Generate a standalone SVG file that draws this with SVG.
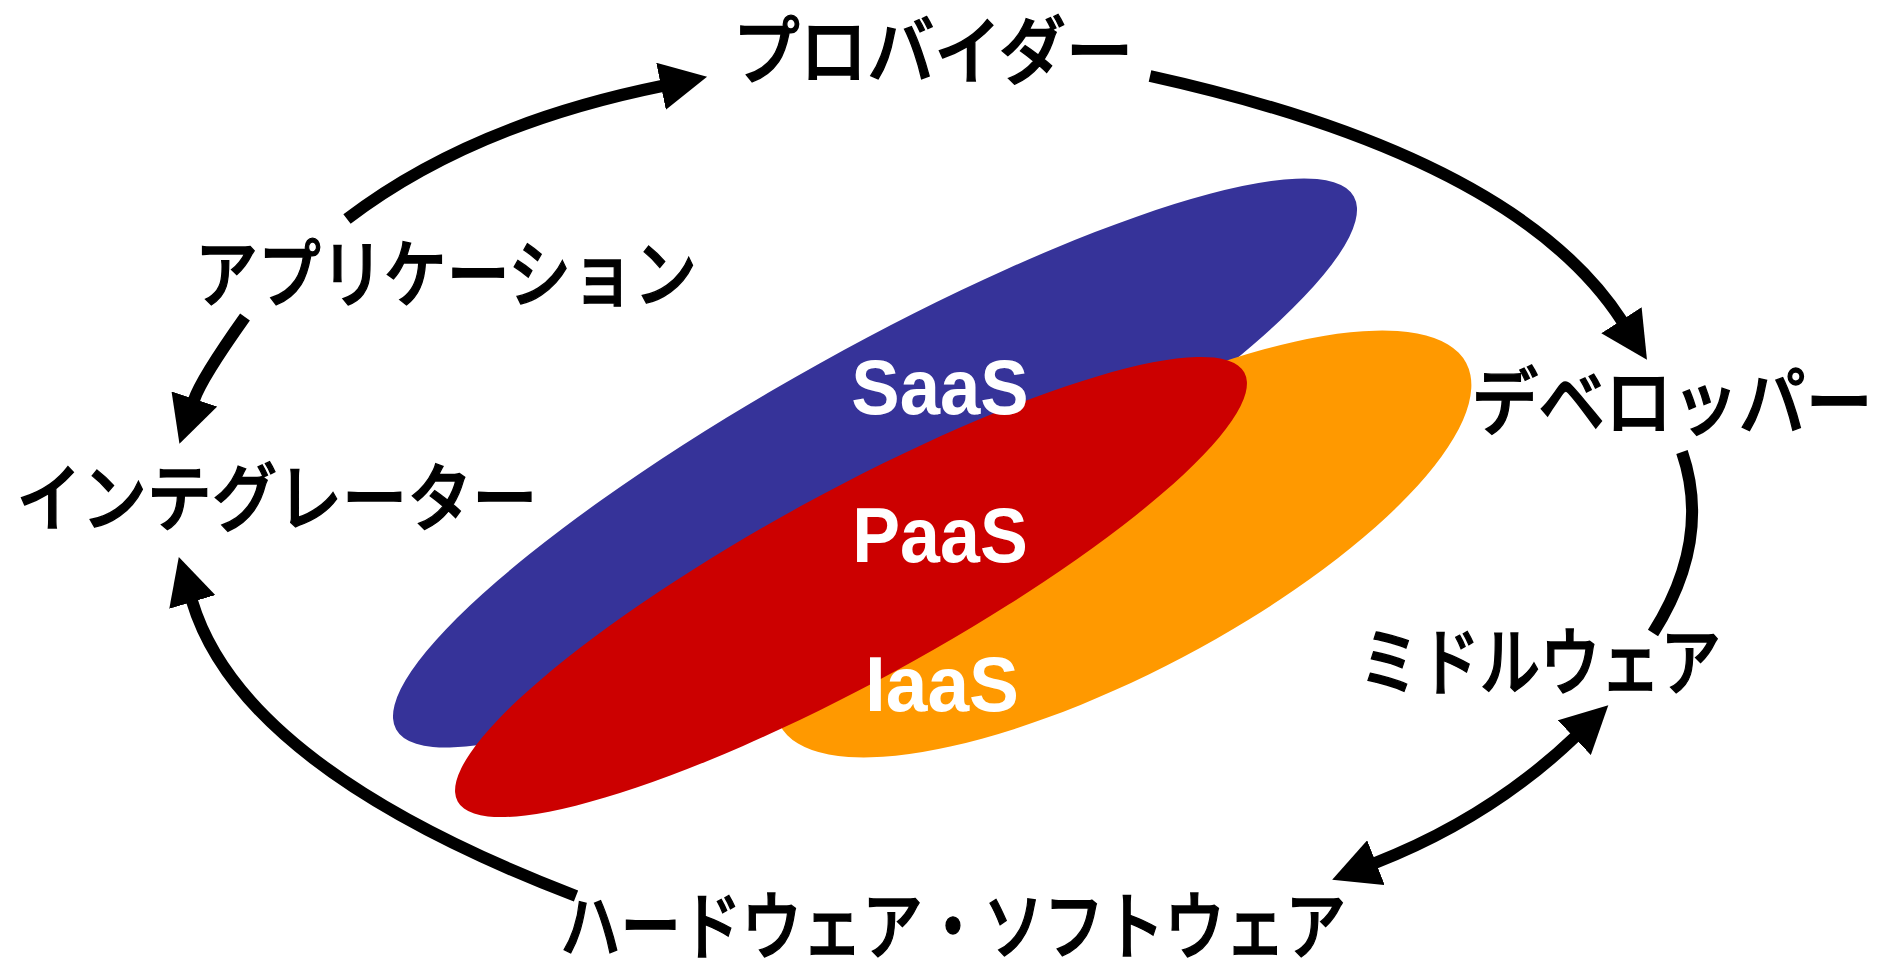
<svg xmlns="http://www.w3.org/2000/svg" width="1879" height="963" viewBox="0 0 1879 963">
<style>
.lbl{font-family:"Noto Sans CJK JP","Noto Sans",sans-serif;font-size:74px;font-weight:500;fill:#000;stroke:#000;stroke-width:1.4;text-anchor:middle}
.aas{font-family:"Liberation Sans",Arial,sans-serif;font-size:78px;font-weight:bold;fill:#fff;text-anchor:middle}
.conn{fill:none;stroke:#000;stroke-width:12;stroke-linecap:butt}
</style>
<defs>
<marker id="ah" markerUnits="userSpaceOnUse" markerWidth="48" markerHeight="48" viewBox="0 0 48 48" refX="1" refY="24" orient="auto"><path d="M0,0 L47,24 L0,48 Z" fill="#000"/></marker>
<marker id="ahs" markerUnits="userSpaceOnUse" markerWidth="48" markerHeight="48" viewBox="0 0 48 48" refX="1" refY="24" orient="auto-start-reverse"><path d="M0,0 L47,24 L0,48 Z" fill="#000"/></marker>
</defs>
<rect width="1879" height="963" fill="#fff"/>
<g id="layers">
<ellipse id="saas" cx="875" cy="463" rx="548" ry="114" transform="rotate(-29.1 875 463)" fill="#363399"/>
<ellipse id="iaas" cx="1123" cy="544" rx="388" ry="128" transform="rotate(-27.8 1123 544)" fill="#FF9900"/>
<ellipse id="paas" cx="851" cy="587" rx="448" ry="95" transform="rotate(-28.6 851 587)" fill="#CC0000"/>
<text class="aas" transform="translate(940,414) scale(0.93,1)">SaaS</text>
<text class="aas" transform="translate(940,562) scale(0.92,1)">PaaS</text>
<text class="aas" transform="translate(942,711) scale(0.96,1)">IaaS</text>
</g>
<g id="connectors">
<path class="conn" d="M347,219 Q470,125 662,86" marker-end="url(#ah)"/>
<path class="conn" d="M1150,76 Q1516,157 1622,321" marker-end="url(#ah)"/>
<path class="conn" d="M1682,452 Q1712,540 1653,633"/>
<path class="conn" d="M1375,863 Q1490,818 1575,737" marker-start="url(#ahs)" marker-end="url(#ahs)"/>
<path class="conn" d="M576,896 Q242,768 192,601" marker-end="url(#ah)"/>
<path class="conn" d="M245,317 Q201,379 194,400" marker-end="url(#ah)"/>
</g>
<g id="provider"><text class="lbl" transform="translate(933,78) scale(0.908,1)">プロバイダー</text></g>
<g id="application"><text class="lbl" transform="translate(446,301) scale(0.85,1)">アプリケーション</text></g>
<g id="integrator"><text class="lbl" transform="translate(277,525) scale(0.88,1)">インテグレーター</text></g>
<g id="developer"><text class="lbl" transform="translate(1672,429) scale(0.903,1)">デベロッパー</text></g>
<g id="middleware"><text class="lbl" transform="translate(1540,689) scale(0.815,1)">ミドルウェア</text></g>
<g id="hardware-software"><text class="lbl" transform="translate(953,953) scale(0.817,1)">ハードウェア・ソフトウェア</text></g>
</svg>
